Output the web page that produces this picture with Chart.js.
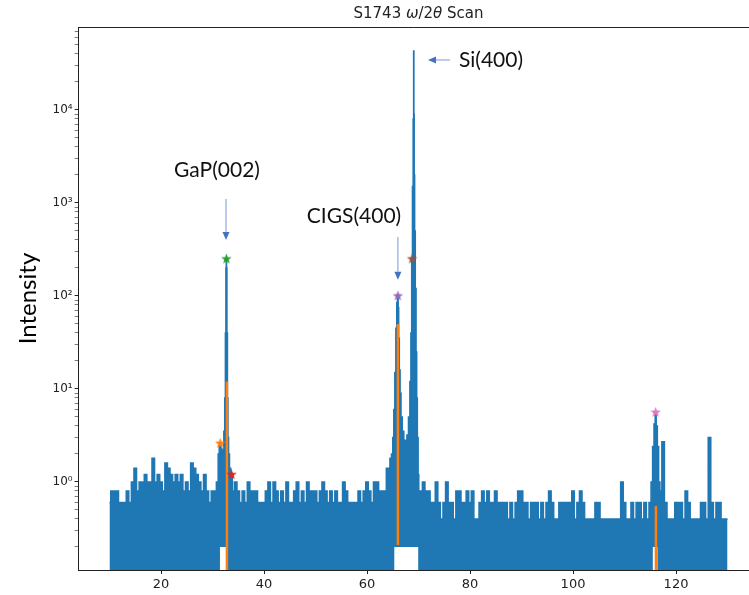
<!DOCTYPE html>
<html>
<head>
<meta charset="utf-8">
<script src="https://cdn.jsdelivr.net/npm/chart.js@4.4.1/dist/chart.umd.min.js"></script>
<style>
  html, body { margin: 0; padding: 0; background: #fff; }
  #wrap { width: 749px; height: 595px; }
</style>
</head>
<body>
<div id="wrap"><canvas id="myChart" width="749" height="595"></canvas></div>
<script>
"use strict";

// scan data: 2theta (deg) and upper envelope of the intensity trace
const twoTheta = [
  10, 10.5, 11, 11.5, 12, 12.5, 13, 13.5, 14, 14.5, 15, 15.5, 16, 16.5, 17, 17.5, 18, 18.5, 19, 19.5,
  20, 20.5, 21, 21.5, 22, 22.5, 23, 23.5, 24, 24.5, 25, 25.5, 26, 26.5, 27, 27.5, 28, 28.5, 29, 29.5,
  30, 30.5,
  // GaP(002)
  31.0, 31.2, 31.4, 31.5, 31.7, 31.9, 32.1, 32.3, 32.45, 32.55, 32.65, 32.7, 32.75, 32.85, 32.95, 33.05, 33.2, 33.4, 33.7, 34.0,
  34.5, 35, 35.5, 36, 36.5, 37, 37.5, 38, 38.5, 39, 39.5, 40, 40.5, 41, 41.5, 42, 42.5, 43, 43.5, 44,
  44.5, 45, 45.5, 46, 46.5, 47, 47.5, 48, 48.5, 49, 49.5, 50, 50.5, 51, 51.5, 52, 52.5, 53, 53.5, 54,
  54.5, 55, 55.5, 56, 56.5, 57, 57.5, 58, 58.5, 59, 59.5, 60, 60.5, 61, 61.5, 62, 62.5, 63, 63.5, 64,
  // CIGS(400) + Si(400)
  64.3, 64.6, 64.9, 65.1, 65.3, 65.5, 65.7, 65.85, 66.0, 66.1, 66.2, 66.35, 66.5, 66.7, 67.0, 67.3, 67.6, 67.9, 68.2, 68.45,
  68.6, 68.75, 68.9, 69.02, 69.08, 69.13, 69.2, 69.3, 69.45, 69.6, 69.7, 69.85, 70.0, 70.1,
  70.5, 71, 71.5, 72, 72.5, 73, 73.5, 74, 74.5, 75, 75.5, 76, 76.5, 77, 77.5, 78, 78.5, 79, 79.5, 80,
  80.5, 81, 81.5, 82, 82.5, 83, 83.5, 84, 84.5, 85, 85.5, 86, 86.5, 87, 87.5, 88, 88.5, 89, 89.5, 90,
  90.5, 91, 91.5, 92, 92.5, 93, 93.5, 94, 94.5, 95, 95.5, 96, 96.5, 97, 97.5, 98, 98.5, 99, 99.5, 100,
  100.5, 101, 101.5, 102, 102.5, 103, 103.5, 104, 104.5, 105, 105.5, 106, 106.5, 107, 107.5, 108, 108.5, 109, 109.5, 110,
  110.5, 111, 111.5, 112, 112.5, 113, 113.5, 114, 114.5,
  // peak near 116
  115.0, 115.3, 115.6, 115.85, 116.05, 116.25, 116.5, 116.75, 117.0,
  117.5, 118, 118.5, 119, 119.5, 120, 120.5, 121, 121.5, 122, 122.5, 123, 123.5, 124, 124.5, 125, 125.5, 126, 126.5, 127,
  127.5, 128, 128.5, 129, 129.5, 130
];
const intensity = [
  0.6, 0.8, 0.8, 0.8, 0.6, 0.6, 0.6, 0.8, 0.6, 1.0, 1.4, 0.8, 1.0, 1.0, 1.2, 1.0, 1.0, 1.8, 1.0, 1.2,
  1.0, 0.8, 1.6, 1.4, 1.2, 1.0, 1.2, 1.0, 1.2, 0.8, 1.0, 0.8, 1.6, 1.4, 1.2, 1.0, 0.8, 1.2, 0.8, 0.6,
  0.8, 0.8,
  1.0, 2.0, 2.4, 2.6, 2.3, 2.0, 2.2, 3.5, 8, 40, 200, 250, 200, 40, 8, 3, 2, 1.4, 1.2, 0.8,
  1.0, 0.8, 0.6, 0.8, 0.6, 1.0, 0.8, 0.8, 0.8, 0.6, 0.6, 0.6, 0.8, 1.0, 0.6, 1.0, 0.8, 0.6, 0.8, 0.6,
  1.0, 0.6, 0.6, 0.8, 1.0, 0.6, 0.8, 0.6, 1.0, 0.8, 0.8, 0.8, 0.6, 0.8, 1.0, 0.8, 0.6, 0.8, 0.6, 0.8,
  0.6, 0.6, 1.0, 0.8, 0.6, 0.6, 0.6, 0.6, 0.8, 0.6, 0.8, 1.0, 0.8, 0.6, 1.0, 1.0, 0.8, 0.8, 0.8, 1.4,
  1.4, 1.8, 2.0, 3, 6, 15, 45, 85, 100, 75, 35, 16, 9, 5, 3.5, 2.8, 2.6, 3.2, 5, 12,
  40, 250, 1500, 8000, 43000, 9000, 2000, 500, 120, 25, 8, 3, 1.2, 0.8,
  0.8, 1.0, 0.8, 0.8, 0.6, 0.6, 1.0, 0.6, 0.4, 0.6, 1.0, 0.6, 0.6, 0.4, 0.8, 0.8, 0.6, 0.6, 0.8, 0.6,
  0.8, 0.4, 0.4, 0.6, 0.8, 0.6, 0.8, 0.6, 0.6, 0.8, 0.6, 0.6, 0.6, 0.6, 0.4, 0.6, 0.4, 0.6, 0.8, 0.8,
  0.6, 0.6, 0.4, 0.6, 0.6, 0.6, 0.4, 0.6, 0.4, 0.6, 0.8, 0.6, 0.4, 0.4, 0.6, 0.6, 0.6, 0.6, 0.6, 0.8,
  0.4, 0.6, 0.8, 0.6, 0.4, 0.4, 0.4, 0.4, 0.6, 0.6, 0.4, 0.4, 0.4, 0.4, 0.4, 0.4, 0.4, 0.4, 1.0, 0.6,
  0.4, 0.4, 0.6, 0.4, 0.6, 0.6, 0.4, 0.6, 0.4,
  0.6, 1.0, 2.4, 4.2, 5.6, 4.0, 2.4, 1.0, 0.8,
  2.7, 0.6, 0.4, 0.4, 0.4, 0.6, 0.6, 0.6, 0.4, 0.8, 0.6, 0.4, 0.4, 0.4, 0.4, 0.6, 0.6, 0.4, 3.0, 0.6,
  0.4, 0.6, 0.6, 0.4, 0.4, 0.4
];

// lower envelope: below the axis where the trace drops to zero, ~0.2 under the peaks
const floorX = [10, 31.44, 31.45, 32.69, 32.7, 65.29, 65.3, 69.94, 69.95, 115.49, 115.5, 116.39, 116.4, 130];
const floorY = [0.05, 0.05, 0.2, 0.2, 0.05, 0.05, 0.2, 0.2, 0.05, 0.05, 0.2, 0.2, 0.05, 0.05];

// orange peak-position traces
const peakLineX = [32.8, 66.0, 116.1];
const peakLineLow = [0.05, 0.21, 0.05];
const peakLineHigh = [12, 50, 0.55];

// star markers (matplotlib C1..C6)
const starX = [31.5, 32.7, 33.7, 66.0, 68.75, 116.05];
const starY = [2.6, 250, 1.2, 100, 250, 5.6];
const starColors = ['#ff7f0e', '#2ca02c', '#d62728', '#9467bd', '#8c564b', '#e377c2'];

// axes
const xTickValues = [20, 40, 60, 80, 100, 120];
const yMajorValues = [1, 10, 100, 1000, 10000];
const yTickLabels = ['10\u2070', '10\u00b9', '10\u00b2', '10\u00b3', '10\u2074'];
const yMin = 0.113, yMax = 78000;

const blue = '#1f77b4';

function starImage(color, r) {
  const s = Math.ceil(r * 2 + 2);
  const c = document.createElement('canvas');
  c.width = s; c.height = s;
  const g = c.getContext('2d');
  g.beginPath();
  for (let i = 0; i < 10; i++) {
    const rad = i % 2 === 0 ? r : r * 0.42;
    const a = -Math.PI / 2 + i * Math.PI / 5;
    const px = s / 2 + rad * Math.cos(a), py = s / 2 + rad * Math.sin(a);
    if (i === 0) g.moveTo(px, py); else g.lineTo(px, py);
  }
  g.closePath();
  g.fillStyle = color;
  g.fill();
  return c;
}

// y ticks: every 1..9 x 10^n, labels only on decades
const yTickValues = [];
for (let e = -1; e <= 4; e++) {
  for (let m = 1; m <= 9; m++) {
    const v = m * Math.pow(10, e);
    if (v >= yMin && v <= yMax) yTickValues.push(v);
  }
}
function decadeIndex(v) {
  return yMajorValues.findIndex(d => Math.abs(v - d) < d * 1e-6);
}

const datasets = [
  {
    label: 'scan',
    data: twoTheta.map((x, i) => ({x: x, y: intensity[i]})),
    borderColor: blue,
    backgroundColor: blue,
    borderWidth: 1.5,
    pointRadius: 0,
    stepped: 'middle',
    fill: '+1',
    order: 3
  },
  {
    label: 'floor',
    data: floorX.map((x, i) => ({x: x, y: floorY[i]})),
    borderColor: 'transparent',
    borderWidth: 0,
    pointRadius: 0,
    fill: false,
    order: 4
  }
];
peakLineX.forEach((x, i) => {
  datasets.push({
    label: 'peak' + i,
    data: [{x: x, y: peakLineLow[i]}, {x: x, y: peakLineHigh[i]}],
    borderColor: '#ff7f0e',
    borderWidth: 2.5,
    pointRadius: 0,
    fill: false,
    clip: 0,
    order: 1
  });
});
datasets.push({
  label: 'stars',
  data: starX.map((x, i) => ({x: x, y: starY[i]})),
  showLine: false,
  pointStyle: starColors.map(c => starImage(c, 5.5)),
  pointRadius: 6,
  order: 0
});

// title with italic omega / theta, centred on the axes
const titlePlugin = {
  id: 'scanTitle',
  afterDraw(chart) {
    const ctx = chart.ctx;
    const parts = [['S1743 ', ''], ['\u03c9', 'italic '], ['/2', ''], ['\u03b8', 'italic '], [' Scan', '']];
    const size = 15;
    ctx.save();
    let total = 0;
    parts.forEach(p => { ctx.font = p[1] + size + 'px "DejaVu Sans"'; total += ctx.measureText(p[0]).width; });
    let x = chart.scales.x.getPixelForValue(70) - total / 2;
    ctx.fillStyle = '#222';
    ctx.textBaseline = 'middle';
    parts.forEach(p => {
      ctx.font = p[1] + size + 'px "DejaVu Sans"';
      ctx.fillText(p[0], x, 14);
      x += ctx.measureText(p[0]).width;
    });
    // top spine
    const a = chart.chartArea;
    ctx.strokeStyle = '#222';
    ctx.lineWidth = 1;
    ctx.beginPath();
    ctx.moveTo(a.left, a.top + 0.5);
    ctx.lineTo(a.right, a.top + 0.5);
    ctx.stroke();
    ctx.restore();
  }
};

// peak labels with arrows
const peakLabels = [
  {text: 'GaP(002)', x: 30.87, y: 2264, align: 'center', arrow: [32.62, 1104, 32.62, 400]},
  {text: 'CIGS(400)', x: 57.48, y: 725, align: 'center', arrow: [66.0, 431, 66.0, 149]},
  {text: 'Si(400)', x: 77.86, y: 34500, align: 'left', arrow: [76.11, 34500, 71.84, 34500]}
];
const labelPlugin = {
  id: 'peakLabels',
  afterDraw(chart) {
    const ctx = chart.ctx, xs = chart.scales.x, ys = chart.scales.y;
    ctx.save();
    peakLabels.forEach(l => {
      ctx.font = '21px Lato';
      ctx.fillStyle = '#111';
      ctx.textAlign = l.align;
      ctx.textBaseline = 'middle';
      ctx.fillText(l.text, xs.getPixelForValue(l.x), ys.getPixelForValue(l.y));
      const x1 = xs.getPixelForValue(l.arrow[0]), y1 = ys.getPixelForValue(l.arrow[1]);
      const x2 = xs.getPixelForValue(l.arrow[2]), y2 = ys.getPixelForValue(l.arrow[3]);
      const ang = Math.atan2(y2 - y1, x2 - x1);
      const hl = 8, hw = 3.5;
      const bx = x2 - hl * Math.cos(ang), by = y2 - hl * Math.sin(ang);
      ctx.strokeStyle = '#8faadc';
      ctx.lineWidth = 1.2;
      ctx.beginPath();
      ctx.moveTo(x1, y1);
      ctx.lineTo(bx, by);
      ctx.stroke();
      ctx.fillStyle = '#4472c4';
      ctx.beginPath();
      ctx.moveTo(x2, y2);
      ctx.lineTo(bx + hw * Math.sin(ang), by - hw * Math.cos(ang));
      ctx.lineTo(bx - hw * Math.sin(ang), by + hw * Math.cos(ang));
      ctx.closePath();
      ctx.fill();
    });
    ctx.restore();
  }
};

const config = {
  type: 'line',
  data: {datasets: datasets},
  options: {
    responsive: false,
    animation: false,
    events: [],
    layout: {autoPadding: false, padding: {top: 27, right: 0, bottom: 0, left: 0}},
    plugins: {
      legend: {display: false},
      tooltip: {enabled: false},
      title: {display: false}
    },
    scales: {
      x: {
        type: 'linear',
        min: 4,
        max: 134.17,
        afterBuildTicks: s => { s.ticks = xTickValues.map(v => ({value: v})); },
        afterFit: s => { s.height = 25; },
        ticks: {font: {family: 'DejaVu Sans', size: 13}, color: '#222', padding: 3, maxRotation: 0, autoSkip: false},
        grid: {drawOnChartArea: false, drawTicks: true, tickLength: 4, tickColor: '#222'},
        border: {display: true, color: '#222', width: 1}
      },
      y: {
        type: 'logarithmic',
        min: yMin,
        max: yMax,
        afterBuildTicks: s => { s.ticks = yTickValues.map(v => ({value: v, major: decadeIndex(v) >= 0})); },
        afterFit: s => { s.width = 78.6; },
        ticks: {
          font: {family: 'DejaVu Sans', size: 12},
          color: '#222',
          padding: 2,
          autoSkip: false,
          callback: v => { const i = decadeIndex(v); return i >= 0 ? yTickLabels[i] : ''; }
        },
        grid: {
          drawOnChartArea: false,
          drawTicks: true,
          tickLength: 4,
          tickColor: '#222',
          tickWidth: c => (c.tick && decadeIndex(c.tick.value) >= 0) ? 1 : 0.6
        },
        border: {display: true, color: '#222', width: 1},
        title: {display: true, text: 'Intensity', font: {family: 'Lato', size: 24}, color: '#000', padding: {top: 14, bottom: 0}}
      }
    }
  },
  plugins: [titlePlugin, labelPlugin]
};

const my_chart = new Chart(document.getElementById('myChart'), config);
</script>
</body>
</html>
